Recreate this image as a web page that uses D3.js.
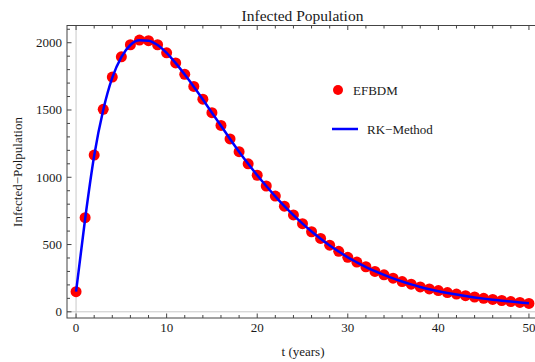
<!DOCTYPE html>
<html>
<head>
<meta charset="utf-8">
<script src="https://cdn.jsdelivr.net/npm/d3@7"></script>
<style>
  body { margin: 0; background: #fff; }
  svg { display: block; }
  text { font-family: "Liberation Serif", "DejaVu Serif", serif; fill: #1a1a1a; }
</style>
</head>
<body>
<div id="chart"></div>
<script>
// time points (years)
var t_years = d3.range(0, 51);
// EFBDM scheme values, one per year
var efbdm = [150, 700, 1165, 1505, 1745, 1895, 1985, 2020, 2015, 1985,
             1925, 1850, 1765, 1675, 1580, 1480, 1385, 1285, 1190, 1100,
             1015, 935, 860, 785, 720, 655, 595, 545, 495, 450,
             405, 370, 335, 300, 275, 250, 225, 205, 185, 170,
             158, 143, 132, 120, 110, 100, 92, 84, 76, 70, 62];
// RK method solution at the same times
var rk = [150, 690, 1160, 1500, 1740, 1893, 1983, 2018, 2015, 1983,
          1925, 1848, 1763, 1673, 1578, 1480, 1383, 1285, 1190, 1100,
          1015, 935, 858, 785, 718, 655, 597, 543, 493, 448,
          405, 368, 333, 302, 274, 248, 225, 204, 185, 168,
          153, 140, 128, 117, 107, 98, 90, 83, 76, 70, 64];
var xTicks = [0, 10, 20, 30, 40, 50];
var yTicks = [0, 500, 1000, 1500, 2000];
var legendLabels = ["EFBDM", "RK\u2212Method"];

var W = 535, H = 362,
    margin = {left: 67, right: -3, top: 25.5, bottom: 44};

var x = d3.scaleLinear().domain([-1, 51]).range([margin.left, W - margin.right]);
var y = d3.scaleLinear().domain([-46, 2128]).range([H - margin.bottom, margin.top]);

var svg = d3.select("#chart").append("svg")
    .attr("width", W)
    .attr("height", H);

// light zero axes inside frame
svg.append("line")
    .attr("x1", x(0)).attr("x2", x(0))
    .attr("y1", y.range()[0]).attr("y2", y.range()[1])
    .attr("stroke", "#c8c8c8").attr("stroke-width", 1);
svg.append("line")
    .attr("x1", x.range()[0]).attr("x2", x.range()[1])
    .attr("y1", y(0)).attr("y2", y(0))
    .attr("stroke", "#c8c8c8").attr("stroke-width", 1);

// frame
svg.append("rect")
    .attr("x", x.range()[0]).attr("y", y.range()[1])
    .attr("width", x.range()[1] - x.range()[0])
    .attr("height", y.range()[0] - y.range()[1])
    .attr("fill", "none").attr("stroke", "#444").attr("stroke-width", 1);

// ticks (inward)
var xMinor = d3.range(0, 51, 2);
var yMinor = d3.range(0, 2101, 100);
var gt = svg.append("g").attr("stroke", "#444").attr("stroke-width", 1);
xMinor.forEach(function (v) {
  var len = (v % 10 === 0) ? 4.5 : 3;
  gt.append("line").attr("x1", x(v)).attr("x2", x(v))
    .attr("y1", y.range()[0]).attr("y2", y.range()[0] - len);
  gt.append("line").attr("x1", x(v)).attr("x2", x(v))
    .attr("y1", y.range()[1]).attr("y2", y.range()[1] + len);
});
yMinor.forEach(function (v) {
  var len = (v % 500 === 0) ? 4.5 : 3;
  gt.append("line").attr("y1", y(v)).attr("y2", y(v))
    .attr("x1", x.range()[0]).attr("x2", x.range()[0] + len);
});

// tick labels
svg.selectAll(".xlab").data(xTicks).enter().append("text")
    .attr("x", function (d) { return x(d); })
    .attr("y", y.range()[0] + 14)
    .attr("text-anchor", "middle")
    .style("font-size", "13px")
    .text(function (d) { return d; });
svg.selectAll(".ylab").data(yTicks).enter().append("text")
    .attr("x", x.range()[0] - 5)
    .attr("y", function (d) { return y(d) + 4.5; })
    .attr("text-anchor", "end")
    .style("font-size", "13px")
    .text(function (d) { return d; });

// title and axis labels
svg.append("text")
    .attr("x", 302.5).attr("y", 21)
    .attr("text-anchor", "middle")
    .style("font-size", "15.5px")
    .text("Infected Population");
svg.append("text")
    .attr("x", 303).attr("y", 356)
    .attr("text-anchor", "middle")
    .style("font-size", "13px")
    .text("t (years)");
svg.append("text")
    .attr("transform", "translate(22," + 172 + ") rotate(-90)")
    .attr("text-anchor", "middle")
    .style("font-size", "13px")
    .text("Infected\u2212Polpulation");

// EFBDM points
svg.selectAll(".pt").data(t_years).enter().append("circle")
    .attr("cx", function (d) { return x(d); })
    .attr("cy", function (d, i) { return y(efbdm[i]); })
    .attr("r", 5.5)
    .attr("fill", "#ff0000");

// RK line
var line = d3.line()
    .x(function (d) { return x(d); })
    .y(function (d, i) { return y(rk[i]); })
    .curve(d3.curveMonotoneX);
svg.append("path")
    .datum(t_years)
    .attr("d", line)
    .attr("fill", "none")
    .attr("stroke", "#0000ff")
    .attr("stroke-width", 2.5);

// legend
svg.append("circle")
    .attr("cx", 338).attr("cy", 90).attr("r", 5)
    .attr("fill", "#ff0000");
svg.append("text")
    .attr("x", 353).attr("y", 94.5)
    .style("font-size", "13px")
    .text(legendLabels[0]);
svg.append("line")
    .attr("x1", 332).attr("x2", 358)
    .attr("y1", 129).attr("y2", 129)
    .attr("stroke", "#0000ff").attr("stroke-width", 2.5);
svg.append("text")
    .attr("x", 367).attr("y", 133.5)
    .style("font-size", "13px")
    .text(legendLabels[1]);
</script>
</body>
</html>
